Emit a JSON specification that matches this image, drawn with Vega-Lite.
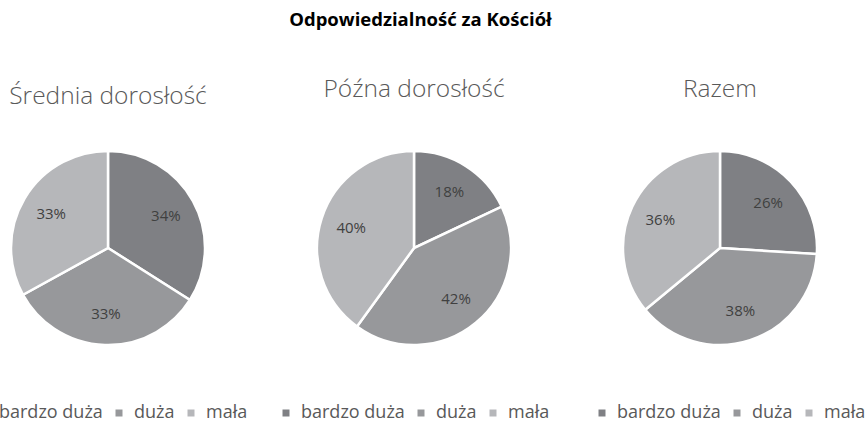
{
  "$schema": "https://vega.github.io/schema/vega-lite/v6.json",
  "background": "white",
  "padding": {"left": -25, "top": 11, "right": 0, "bottom": 0},
  "title": {"text": "Odpowiedzialność za Kościół", "font": "Open Sans", "fontSize": 18.5, "fontWeight": "bold", "color": "#000000", "anchor": "middle", "offset": 47},
  "data": {"values": [
    {"grupa": "Średnia dorosłość", "kat": "bardzo duża", "v": 0.34},
    {"grupa": "Średnia dorosłość", "kat": "duża", "v": 0.33},
    {"grupa": "Średnia dorosłość", "kat": "mała", "v": 0.33},
    {"grupa": "Późna dorosłość", "kat": "bardzo duża", "v": 0.18},
    {"grupa": "Późna dorosłość", "kat": "duża", "v": 0.42},
    {"grupa": "Późna dorosłość", "kat": "mała", "v": 0.40},
    {"grupa": "Razem", "kat": "bardzo duża", "v": 0.26},
    {"grupa": "Razem", "kat": "duża", "v": 0.38},
    {"grupa": "Razem", "kat": "mała", "v": 0.36}
  ]},
  "spacing": 106,
  "bounds": "flush",
  "resolve": {"scale": {"color": "independent", "theta": "independent"}},
  "hconcat": [
    {
      "title": {"text": "Średnia dorosłość", "offset": 37},
      "width": 200, "height": 200,
      "transform": [{"filter": "datum.grupa === 'Średnia dorosłość'"}],
      "encoding": {
        "theta": {"field": "v", "type": "quantitative", "stack": true},
        "order": {"field": "kat", "type": "nominal"}
      },
      "layer": [
        {"mark": {"type": "arc", "outerRadius": 97, "stroke": "white", "strokeWidth": 2.5},
         "encoding": {"color": {"field": "kat", "type": "nominal", "scale": {"domain": ["bardzo duża", "duża", "mała"], "range": ["#7f8084", "#97989b", "#b6b7ba"]}, "legend": {"orient": "none", "legendX": -33, "legendY": 256, "direction": "horizontal", "title": null}}}},
        {"mark": {"type": "text", "radius": 66, "fontSize": 15, "font": "Open Sans", "color": "#404040"},
         "encoding": {"detail": {"field": "kat"}, "text": {"field": "v", "type": "quantitative", "format": ".0%"}}}
      ]
    },
    {
      "title": {"text": "Późna dorosłość", "offset": 44},
      "width": 200, "height": 200,
      "transform": [{"filter": "datum.grupa === 'Późna dorosłość'"}],
      "encoding": {
        "theta": {"field": "v", "type": "quantitative", "stack": true},
        "order": {"field": "kat", "type": "nominal"}
      },
      "layer": [
        {"mark": {"type": "arc", "outerRadius": 97, "stroke": "white", "strokeWidth": 2.5},
         "encoding": {"color": {"field": "kat", "type": "nominal", "scale": {"domain": ["bardzo duża", "duża", "mała"], "range": ["#7f8084", "#97989b", "#b6b7ba"]}, "legend": {"orient": "none", "legendX": -37, "legendY": 256, "direction": "horizontal", "title": null}}}},
        {"mark": {"type": "text", "radius": 66, "fontSize": 15, "font": "Open Sans", "color": "#404040"},
         "encoding": {"detail": {"field": "kat"}, "text": {"field": "v", "type": "quantitative", "format": ".0%"}}}
      ]
    },
    {
      "title": {"text": "Razem", "offset": 44},
      "width": 200, "height": 200,
      "transform": [{"filter": "datum.grupa === 'Razem'"}],
      "encoding": {
        "theta": {"field": "v", "type": "quantitative", "stack": true},
        "order": {"field": "kat", "type": "nominal"}
      },
      "layer": [
        {"mark": {"type": "arc", "outerRadius": 97, "stroke": "white", "strokeWidth": 2.5},
         "encoding": {"color": {"field": "kat", "type": "nominal", "scale": {"domain": ["bardzo duża", "duża", "mała"], "range": ["#7f8084", "#97989b", "#b6b7ba"]}, "legend": {"orient": "none", "legendX": -27, "legendY": 256, "direction": "horizontal", "title": null}}}},
        {"mark": {"type": "text", "radius": 66, "fontSize": 15, "font": "Open Sans", "color": "#404040"},
         "encoding": {"detail": {"field": "kat"}, "text": {"field": "v", "type": "quantitative", "format": ".0%"}}}
      ]
    }
  ],
  "config": {
    "view": {"stroke": null},
    "title": {"font": "Open Sans", "fontSize": 24.5, "fontWeight": 300, "color": "#595959", "anchor": "middle"},
    "legend": {"labelFont": "Open Sans", "labelFontSize": 18, "labelColor": "#595959", "symbolType": "square", "symbolSize": 49, "symbolStrokeWidth": 0, "columnPadding": 7, "labelOffset": 6}
  }
}
